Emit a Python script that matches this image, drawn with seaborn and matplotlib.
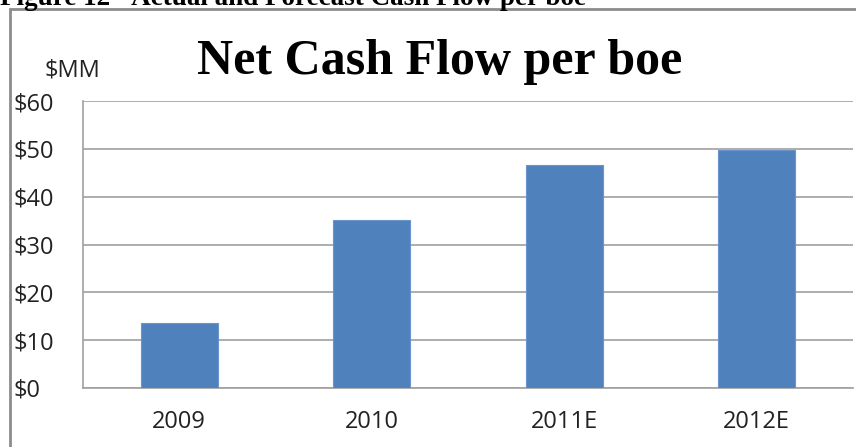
import matplotlib
matplotlib.use("Agg")
import matplotlib.pyplot as plt
import matplotlib.patches as mpatches
from matplotlib.transforms import blended_transform_factory
import seaborn as sns
import pandas as pd

categories = ["2009", "2010", "2011E", "2012E"]
values = [13.6, 35.1, 46.6, 49.8]
yticks = [0, 10, 20, 30, 40, 50, 60]
ytick_labels = ["$0", "$10", "$20", "$30", "$40", "$50", "$60"]

sns.set_style("white")
plt.rcParams['font.family'] = ['Open Sans', 'DejaVu Sans']

W, H = 856, 447
fig = plt.figure(figsize=(W / 100, H / 100), dpi=100)
ax = fig.add_axes([83 / W, 1 - 388 / H, (853 - 83) / W, (388 - 101) / H])

df = pd.DataFrame({"cat": categories, "val": values})
sns.barplot(data=df, x="cat", y="val", color="#4F81BD", saturation=1, width=0.4, ax=ax,
            edgecolor="#6A95CC", linewidth=0.8, zorder=3)

ax.set_ylim(0, 60)
ax.set_xlim(-0.5, 3.5)
ax.set_yticks(yticks)
ax.tick_params(axis="x", labelsize=17, colors="#222222", pad=16, length=0)
ax.tick_params(axis="y", length=0)
ax.set_xlabel("")
ax.set_ylabel("")
ax.yaxis.grid(True, color="#A0A0A0", linewidth=1.2, zorder=0)
ax.set_axisbelow(True)
for s in ["top", "right"]:
    ax.spines[s].set_visible(False)
for s in ["left", "bottom"]:
    ax.spines[s].set_color("#A0A0A0")
    ax.spines[s].set_linewidth(1.2)

# y tick labels, left-aligned like the reference
trans = blended_transform_factory(fig.transFigure, ax.transData)
ax.set_yticklabels([])
for v, t in zip(yticks, ytick_labels):
    fig.text(14 / W, v, t, transform=trans, ha="left", va="center_baseline",
             fontsize=17, color="#222222")

# outer chart frame
frame = mpatches.Rectangle((10 / W, -0.05), 1.0, 1.05 - 9 / H,
                           transform=fig.transFigure, fill=False,
                           edgecolor="#8C8C8C", linewidth=2.0)
fig.patches.append(frame)

fig.text(440 / W, 1 - 62 / H, "Net Cash Flow per boe", ha="center", va="center",
         fontsize=36, fontweight="bold", family="Liberation Serif", color="#000000")
fig.text(72 / W, 1 - 70 / H, "$MM", ha="center", va="center", fontsize=17, color="#222222")
fig.text(0 / W, 1 - 5 / H, "Figure 12 - Actual and Forecast Cash Flow per boe", ha="left",
         va="baseline", fontsize=19.5, fontweight="bold", family="Liberation Serif", color="#000000")

fig.savefig("out.png", dpi=100)
